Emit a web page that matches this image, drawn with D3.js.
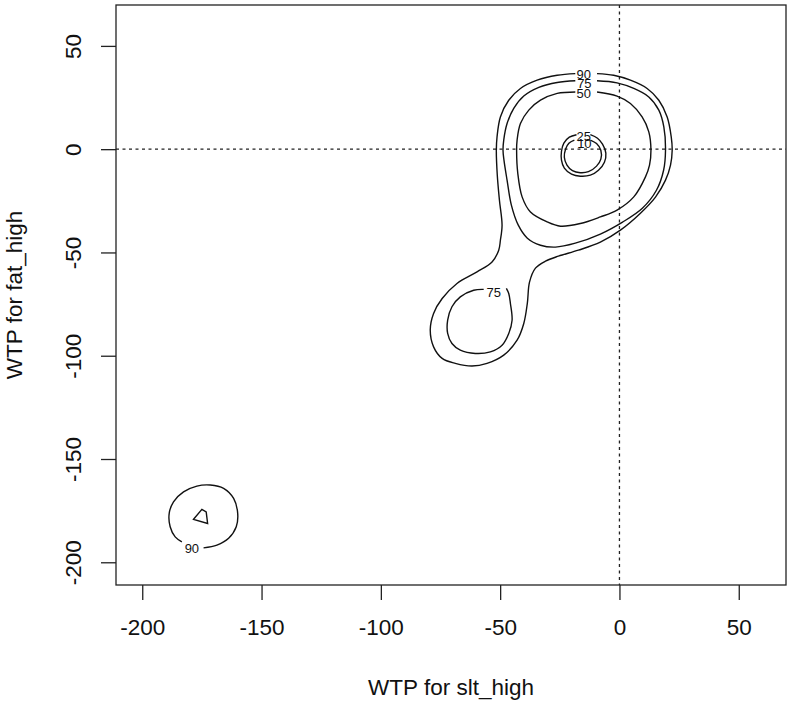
<!DOCTYPE html>
<html><head><meta charset="utf-8">
<script src="https://cdn.jsdelivr.net/npm/d3@7/dist/d3.min.js"></script>
<style>body{margin:0;background:#fff}svg{display:block}</style>
</head><body>
<svg id="chart" width="789" height="704"></svg>
<script>
// ---- data ----
const xTicks = [-200, -150, -100, -50, 0, 50];
const yTicks = [-200, -150, -100, -50, 0, 50];
const xLimits = [-211, 69.8];
const yLimits = [-211, 69.8];
const xTitle = "WTP for slt_high";
const yTitle = "WTP for fat_high";
const refX = [0];
const refY = [0];

// contour lines (x, y in WTP units), open where a label sits
const c90Main = [[-9.4,36.6],[-2.4,35.8],[4.6,33.4],[11.6,29.4],[16.5,23.7],[20.0,15.6],[21.7,6.0],[22.1,-0.5],[21.4,-7.7],[19.3,-15.0],[15.1,-23.2],[8.8,-31.0],[0.4,-39.2],[-8.0,-45.0],[-17.2,-48.9],[-25.6,-51.8],[-31.0,-54.2],[-35.2,-57.6],[-37.7,-64.4],[-38.6,-74.5],[-40.1,-84.4],[-42.9,-92.5],[-48.5,-99.7],[-55.5,-103.7],[-61.8,-105.0],[-68.8,-103.7],[-74.3,-101.3],[-77.9,-95.7],[-79.3,-87.6],[-77.9,-79.5],[-74.3,-72.3],[-68.1,-65.0],[-59.7,-59.4],[-53.4,-54.6],[-50.6,-48.9],[-49.9,-44.1],[-49.2,-36.8],[-50.3,-24.7],[-51.2,-12.6],[-51.6,-0.5],[-51.3,6.0],[-49.9,15.6],[-46.4,23.7],[-41.5,29.4],[-34.5,33.4],[-26.1,35.8],[-18.5,36.6]];
const c75Main = [[-9.4,33.1],[-1.0,32.1],[6.0,29.4],[12.3,25.3],[16.5,18.9],[18.6,10.8],[19.3,-0.5],[18.5,-10.2],[15.5,-19.9],[9.6,-28.6],[1.3,-35.3],[-8.0,-41.1],[-18.5,-45.5],[-26.8,-47.4],[-33.1,-46.5],[-38.6,-43.1],[-42.4,-36.8],[-45.3,-27.1],[-47.1,-15.0],[-48.4,-5.3],[-48.8,-0.5],[-48.5,4.4],[-47.1,12.4],[-44.3,19.7],[-40.1,25.7],[-33.8,29.9],[-26.1,32.3],[-18.5,33.1]];
const c50Main = [[-9.4,27.7],[-1.0,25.7],[4.6,22.1],[9.5,15.6],[12.3,8.4],[13.2,-0.5],[12.6,-7.7],[10.9,-13.4],[6.0,-23.1],[-1.0,-29.5],[-8.0,-32.8],[-16.4,-36.0],[-24.7,-37.3],[-30.3,-35.2],[-37.3,-30.4],[-40.8,-23.1],[-42.6,-11.8],[-43.1,-0.5],[-42.9,4.4],[-41.5,12.4],[-38.0,18.9],[-33.1,23.7],[-26.1,27.0],[-18.5,27.7]];
const c25Main = [[-12.2,7.0],[-9.2,5.3],[-7.1,2.4],[-5.7,-1.9],[-6.3,-6.3],[-8.8,-10.2],[-12.2,-12.6],[-16.4,-13.1],[-20.1,-12.1],[-23.1,-9.2],[-24.3,-5.3],[-24.3,-1.0],[-23.3,2.9],[-21.0,5.8],[-18.0,7.0]];
const c10Main = [[-12.2,4.4],[-9.6,2.7],[-7.8,-0.5],[-7.8,-4.8],[-9.6,-8.2],[-13.0,-10.9],[-16.4,-11.4],[-19.7,-10.4],[-22.0,-7.7],[-23.1,-3.9],[-22.6,0.0],[-21.2,2.9],[-18.9,4.4]];
const c75Lower = [[-47.4,-67.4],[-46.4,-69.9],[-45.7,-74.7],[-45.0,-82.8],[-46.4,-89.2],[-49.2,-94.9],[-54.1,-98.1],[-60.4,-98.9],[-66.7,-97.3],[-70.2,-94.1],[-72.0,-89.2],[-72.0,-82.8],[-70.2,-76.3],[-66.7,-71.5],[-61.1,-68.3],[-56.9,-67.9]];
const c90Small = [[-174.3,-193.0],[-168.7,-191.7],[-163.8,-188.4],[-160.6,-182.8],[-160.0,-176.3],[-161.7,-169.1],[-165.9,-164.2],[-171.5,-162.6],[-177.1,-163.1],[-182.7,-165.9],[-186.9,-170.7],[-188.7,-176.3],[-188.3,-182.8],[-186.2,-187.7],[-183.4,-190.1]];
const cTiny = [[-178.5,-179.2],[-175.0,-174.4],[-173.2,-175.6],[-172.6,-181.2]];

const labelText = ["90", "75", "50", "25", "10", "75", "90"];
const labelX = [-15.0, -14.7, -15.0, -15.0, -14.7, -52.7, -179.2];
const labelY = [36.2, 31.8, 27.0, 6.3, 3.0, -69.1, -193.3];

// ---- drawing ----
const svg = d3.select("#chart");
const L = 116, R = 786, T = 5, B = 585;
const x = d3.scaleLinear().domain(xLimits).range([L, R]);
const y = d3.scaleLinear().domain(yLimits).range([B, T]);
const FONT = "'Liberation Sans', Arial, sans-serif";
const fmt = d => String(d);

svg.append("rect").attr("width", 789).attr("height", 704).attr("fill", "#fff");

// reference lines
svg.selectAll(".vref").data(refX).enter().append("line")
  .attr("x1", d => x(d)).attr("x2", d => x(d)).attr("y1", T).attr("y2", B)
  .attr("stroke", "#222").attr("stroke-width", 1.3).attr("stroke-dasharray", "3,3.5");
svg.selectAll(".href").data(refY).enter().append("line")
  .attr("y1", d => y(d)).attr("y2", d => y(d)).attr("x1", L).attr("x2", R)
  .attr("stroke", "#222").attr("stroke-width", 1.3).attr("stroke-dasharray", "3,3.5");

// contours
const smooth = d3.line().x(d => x(d[0])).y(d => y(d[1])).curve(d3.curveCatmullRom.alpha(0.5));
const closedLin = d3.line().x(d => x(d[0])).y(d => y(d[1])).curve(d3.curveLinearClosed);
const openContours = [c90Main, c75Main, c50Main, c25Main, c10Main, c75Lower, c90Small];
const g = svg.append("g").attr("fill", "none").attr("stroke", "#111").attr("stroke-width", 1.4);
g.selectAll("path.c").data(openContours).enter().append("path").attr("d", smooth);
g.append("path").attr("d", closedLin(cTiny));

// contour labels
svg.append("g").selectAll("text").data(labelText).enter().append("text")
  .attr("x", (d, i) => x(labelX[i])).attr("y", (d, i) => y(labelY[i]))
  .attr("dy", "0.36em").attr("text-anchor", "middle")
  .attr("font-family", FONT).attr("font-size", 13).attr("fill", "#111")
  .text(d => d);

// axes
const xa = svg.append("g").attr("transform", `translate(0,${B})`)
  .call(d3.axisBottom(x).tickValues(xTicks).tickSize(15).tickFormat(fmt));
xa.select(".domain").remove();
xa.selectAll(".tick line").attr("stroke", "#222").attr("stroke-width", 1.3);
xa.selectAll(".tick text").attr("y", 42).attr("dy", "0.36em")
  .attr("font-family", FONT).attr("font-size", 22.5).attr("fill", "#111");

const ya = svg.append("g").attr("transform", `translate(${L},0)`)
  .call(d3.axisLeft(y).tickValues(yTicks).tickSize(15).tickFormat(fmt));
ya.select(".domain").remove();
ya.selectAll(".tick line").attr("stroke", "#222").attr("stroke-width", 1.3);
ya.selectAll(".tick text").attr("x", null).attr("dy", null)
  .attr("transform", "translate(-43,0) rotate(-90)").attr("dy", "0.36em")
  .attr("text-anchor", "middle")
  .attr("font-family", FONT).attr("font-size", 22.5).attr("fill", "#111");

// box
svg.append("rect").attr("x", L).attr("y", T).attr("width", R - L).attr("height", B - T)
  .attr("fill", "none").attr("stroke", "#222").attr("stroke-width", 1.3);

// titles
svg.append("text").attr("x", (L + R) / 2).attr("y", 687).attr("dy", "0.36em")
  .attr("text-anchor", "middle").attr("font-family", FONT).attr("font-size", 22.5).attr("fill", "#111")
  .text(xTitle);
svg.append("text").attr("transform", `translate(14,${(T + B) / 2}) rotate(-90)`).attr("dy", "0.36em")
  .attr("text-anchor", "middle").attr("font-family", FONT).attr("font-size", 22.5).attr("fill", "#111")
  .text(yTitle);
</script>
</body></html>
